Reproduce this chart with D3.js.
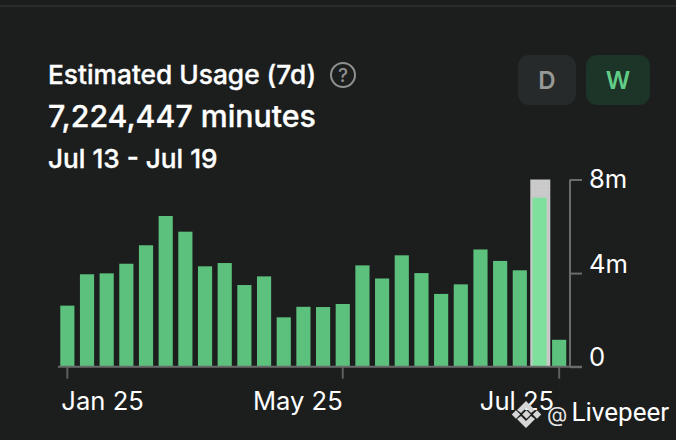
<!DOCTYPE html>
<html>
<head>
<meta charset="utf-8">
<script src="https://cdnjs.cloudflare.com/ajax/libs/d3/7.8.5/d3.min.js"></script>
<style>
  html, body { margin: 0; padding: 0; background: #1c1e1e; }
  svg { display: block; font-family: Inter, "Noto Sans", sans-serif; }
</style>
</head>
<body>
<svg id="chart" width="676" height="440"></svg>
<script>
var usage = [2.61, 3.95, 3.99, 4.40, 5.19, 6.44, 5.77, 4.29, 4.43, 3.49, 3.86, 2.11, 2.56,
             2.55, 2.68, 4.33, 3.77, 4.76, 4.00, 3.11, 3.52, 5.01, 4.52, 4.12, 7.224447, 1.15];
var weeks = usage.map(function(d, i) { return i; });
var highlighted = 24;
var tickWeeks = [0, 14, 25];
var tickLabels = ["Jan 25", "May 25", "Jul 25"];
var yTicks = [0, 4, 8];
var yTickLabels = ["0", "4m", "8m"];
var buttons = ["D", "W"];

var svg = d3.select("#chart");

// dotted fill of the hover cursor
var dots = svg.append("defs").append("pattern").attr("id", "dots")
    .attr("width", 4).attr("height", 4).attr("patternUnits", "userSpaceOnUse");
dots.append("rect").attr("width", 4).attr("height", 4).attr("fill", "#c9c9c9");
dots.append("rect").attr("x", 1).attr("y", 1).attr("width", 1).attr("height", 1).attr("fill", "#d2d2d2");

// top edge of the card
svg.append("rect").attr("x", 0).attr("y", 5).attr("width", 676).attr("height", 2).attr("fill", "#2a2c2c");

// header
function label(x, y, text, size, weight) {
    return svg.append("text").attr("x", x).attr("y", y).text(text)
        .attr("fill", "#fff").attr("font-size", size).attr("font-weight", weight);
}
label(48, 84, "Estimated Usage (7d)", 26.3, 500).attr("stroke", "#fff").attr("stroke-width", 0.35);
label(48, 127, "7,224,447 minutes", 30.3, 500).attr("stroke", "#fff").attr("stroke-width", 0.35);
label(48, 168, "Jul 13 - Jul 19", 26.2, 500).attr("stroke", "#fff").attr("stroke-width", 0.35);

// help icon
svg.append("circle").attr("cx", 343).attr("cy", 75).attr("r", 12)
    .attr("fill", "none").attr("stroke", "#8f9191").attr("stroke-width", 2);
svg.append("text").attr("x", 343).attr("y", 82).attr("text-anchor", "middle")
    .attr("fill", "#8f9191").attr("font-size", 19).attr("font-weight", 500).text("?");

// D / W toggle
var buttonX = d3.scaleOrdinal().domain(buttons).range([518, 586]);
var buttonW = d3.scaleOrdinal().domain(buttons).range([58, 64]);
var buttonFill = d3.scaleOrdinal().domain(buttons).range(["#272a2a", "#1d3428"]);
var buttonText = d3.scaleOrdinal().domain(buttons).range(["#979999", "#62cd87"]);
var btn = svg.selectAll("g.btn").data(buttons).enter().append("g").attr("class", "btn");
btn.append("rect")
    .attr("x", function(d) { return buttonX(d); }).attr("y", 55)
    .attr("width", function(d) { return buttonW(d); }).attr("height", 50).attr("rx", 11)
    .attr("fill", function(d) { return buttonFill(d); });
btn.append("text")
    .attr("x", function(d) { return buttonX(d) + buttonW(d) / 2; }).attr("y", 88.5)
    .attr("text-anchor", "middle").attr("font-size", 24).attr("font-weight", 600)
    .attr("fill", function(d) { return buttonText(d); })
    .text(function(d) { return d; });

// scales
var x = d3.scaleBand().domain(weeks).range([57.5, 569]).paddingInner(0.28).paddingOuter(0.14);
var y = d3.scaleLinear().domain([0, 8]).range([366.7, 179.5]);

// hover cursor behind the active bar
svg.append("rect")
    .attr("x", x(highlighted) + x.bandwidth() / 2 - 9.2).attr("y", y(8))
    .attr("width", 20).attr("height", y(0) - y(8))
    .attr("fill", "url(#dots)");

// bars
svg.selectAll("rect.bar").data(usage).enter().append("rect")
    .attr("class", "bar")
    .attr("x", function(d, i) { return x(i); })
    .attr("y", function(d) { return y(d); })
    .attr("width", x.bandwidth())
    .attr("height", function(d) { return y(0) - y(d); })
    .attr("fill", function(d, i) { return i === highlighted ? "#7fe09d" : "#5bc17c"; });

// axes
var xAxis = d3.axisBottom(x).tickValues(tickWeeks).tickSize(12).tickPadding(12)
    .tickFormat(function(d) { return tickLabels[tickWeeks.indexOf(d)]; });
var gx = svg.append("g").attr("transform", "translate(0," + y(0) + ")").call(xAxis);
gx.select(".domain").remove();
gx.append("line").attr("x1", 58).attr("x2", 582).attr("stroke", "#6a6c6c").attr("stroke-width", 2);
gx.selectAll(".tick line").attr("stroke", "#5d5f5f").attr("stroke-width", 2);
gx.selectAll(".tick text").attr("fill", "#fff").attr("font-size", 25.6).attr("font-family", "Inter")
    .attr("text-anchor", function(d, i) { return i === 0 ? "start" : "end"; })
    .attr("dx", function(d, i) { return i === 0 ? -6 : (i === 1 ? 0 : -5); })
    .attr("y", 24).attr("dy", 19.5);

var yAxis = d3.axisRight(y).tickValues(yTicks).tickSize(12).tickPadding(7)
    .tickFormat(function(d) { return yTickLabels[yTicks.indexOf(d)]; });
var gy = svg.append("g").attr("transform", "translate(570,0)").call(yAxis);
gy.select(".domain").remove();
gy.append("line").attr("y1", y(8)).attr("y2", y(0)).attr("stroke", "#6a6c6c").attr("stroke-width", 2);
gy.selectAll(".tick line").attr("stroke", "#6a6c6c").attr("stroke-width", 2);
// only the top label sits on its tick, the others ride a little above
gy.selectAll(".tick text").attr("fill", "#fff").attr("font-size", 25.6).attr("font-family", "Inter")
    .attr("y", function(d) { return d === 8 ? 0 : -9; });

// watermark
var mark = svg.append("g").attr("fill", "#d6d6d6");
mark.append("path").attr("d", "M526 401L535 410L531 413L526 408L521 413L517 410Z");
mark.append("path").attr("d", "M526 428L535 419L531 416L526 421L521 416L517 419Z");
[516, 526.5, 537].forEach(function(cx) {
    mark.append("rect").attr("x", cx - 3).attr("y", 411.5).attr("width", 6).attr("height", 6)
        .attr("transform", "rotate(45 " + cx + " 414.5)");
});
label(547, 422, "@", 21, 400).attr("fill", "#e4e4e4");
label(571.5, 421, "Livepeer", 26, 400).attr("font-family", "Roboto");
</script>
</body>
</html>
